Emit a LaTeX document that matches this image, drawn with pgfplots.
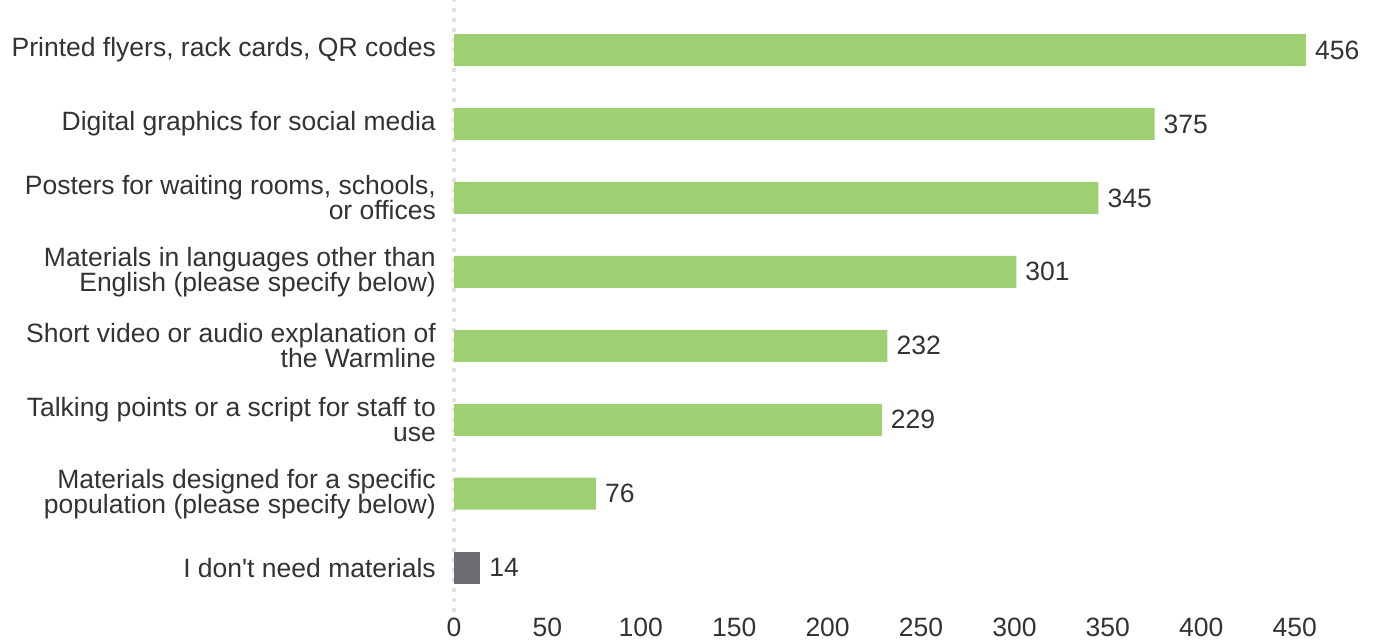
\documentclass[border=0pt]{standalone}
\usepackage{pgfplots}
\pgfplotsset{compat=1.18}
\usepackage{fontspec}
\setmainfont{Liberation Sans}
\definecolor{barg}{HTML}{9FCF73}
\definecolor{barx}{HTML}{6B6B70}
\definecolor{txt}{HTML}{333333}
\definecolor{dotc}{HTML}{E2E2E2}
\newcommand{\lblfont}{\fontsize{26.5bp}{25bp}\selectfont}
\begin{document}
\begin{tikzpicture}
\begin{axis}[
 at={(454bp,28bp)}, anchor=south west,
 scale only axis, width=878bp, height=612bp,
 xmin=0, xmax=470, ymin=-0.6, ymax=7.677,
 xbar, bar width=32bp, bar shift=0pt,
 axis line style={draw=none},
 major tick length=0pt,
 xtick={0,50,...,450},
 ytick={0,...,7},
 yticklabels={{I don\textquotesingle t need materials},
   {Materials designed for a specific\\population (please specify below)},
   {Talking points or a script for staff to\\use},
   {Short video or audio explanation of\\the Warmline},
   {Materials in languages other than\\English (please specify below)},
   {Posters for waiting rooms, schools,\\or offices},
   {Digital graphics for social media},
   {Printed flyers, rack cards, QR codes}},
 tick label style={font=\lblfont, text=txt},
 yticklabel style={align=right, inner sep=0pt, xshift=-18bp},
 xticklabel style={inner sep=0pt, yshift=-6bp},
 /pgf/number format/assume math mode=true,
 nodes near coords,
 nodes near coords style={font=\lblfont, text=txt, anchor=west, xshift=9bp, inner sep=0pt},
 clip=false,
]
\draw[color=dotc, line width=4bp, dash pattern=on 4bp off 6bp] (axis cs:0,-0.6) -- (axis cs:0,7.677);
\addplot[fill=barg, draw=none] coordinates {(76,1) (229,2) (232,3) (301,4) (345,5) (375,6) (456,7)};
\addplot[fill=barx, draw=none] coordinates {(14,0)};
\end{axis}
\pgfresetboundingbox
\path[use as bounding box] (0,0) rectangle (1373bp,640bp);
\end{tikzpicture}
\end{document}
